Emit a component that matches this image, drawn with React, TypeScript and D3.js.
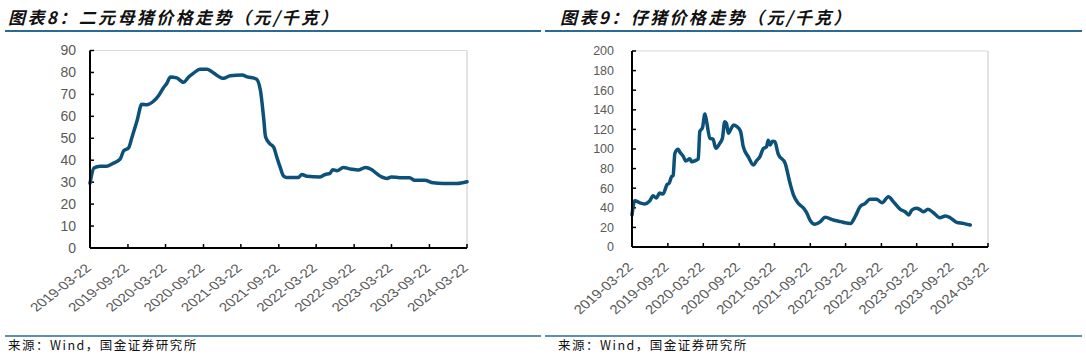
import React from "react";
import * as d3 from "d3";

const tickDates = [
  "2019-03-22", "2019-09-22", "2020-03-22", "2020-09-22", "2021-03-22", "2021-09-22",
  "2022-03-22", "2022-09-22", "2023-03-22", "2023-09-22", "2024-03-22",
];

const sowDates = [
  "2019-03-22", "2019-04-10", "2019-05-10", "2019-06-10", "2019-07-10", "2019-08-15", "2019-09-01",
  "2019-09-25", "2019-10-10", "2019-11-05", "2019-11-28", "2019-12-22", "2020-01-25", "2020-02-18",
  "2020-03-12", "2020-03-28", "2020-04-15", "2020-05-15", "2020-06-18", "2020-07-12", "2020-08-05",
  "2020-09-05", "2020-10-10", "2020-11-10", "2020-12-28", "2021-01-30", "2021-03-28", "2021-04-22",
  "2021-06-05", "2021-06-25", "2021-07-10", "2021-07-20", "2021-08-10", "2021-08-28", "2021-09-12",
  "2021-09-28", "2021-10-15", "2021-10-30", "2021-12-25", "2022-01-12", "2022-02-05", "2022-04-10",
  "2022-05-05", "2022-05-28", "2022-06-10", "2022-07-01", "2022-08-01", "2022-09-05", "2022-10-12",
  "2022-11-15", "2022-12-15", "2023-01-08", "2023-02-02", "2023-02-28", "2023-03-22", "2023-05-01",
  "2023-06-18", "2023-07-12", "2023-08-30", "2023-10-10", "2023-11-28", "2024-02-02", "2024-03-22",
];
const sowValues = [
  29.5, 36.5, 37.3, 37.2, 38.5, 40.5, 44.3,
  45.6, 50, 58, 65.5, 65.3, 67, 69.5,
  73, 75, 77.9, 77.5, 75.5, 77.9, 79.7,
  81.5, 81.5, 79.7, 77.3, 78.5, 78.8, 78,
  77, 71.8, 59.7, 50.6, 47.5, 46, 41.5,
  37, 32.8, 32.1, 32.1, 33.5, 32.7, 32.4,
  33.5, 34, 35.7, 35.2, 36.7, 36, 35.5,
  36.7, 35.8, 34, 32.4, 31.7, 32.4, 32,
  32, 30.9, 30.9, 29.7, 29.4, 29.4, 30.2,
];

const pigletDates = [
  "2019-03-22", "2019-04-05", "2019-05-01", "2019-05-26", "2019-06-21", "2019-07-08", "2019-07-25",
  "2019-08-11", "2019-08-28", "2019-09-19", "2019-09-28", "2019-10-11", "2019-10-19", "2019-10-28",
  "2019-11-14", "2019-11-22", "2019-12-10", "2019-12-23", "2020-01-13", "2020-01-22", "2020-02-12",
  "2020-02-25", "2020-03-04", "2020-03-18", "2020-03-30", "2020-04-07", "2020-04-25", "2020-05-11",
  "2020-05-25", "2020-06-15", "2020-06-28", "2020-07-10", "2020-07-19", "2020-07-28", "2020-08-12",
  "2020-08-25", "2020-09-09", "2020-09-29", "2020-10-13", "2020-11-08", "2020-12-04", "2020-12-20",
  "2021-01-06", "2021-01-25", "2021-02-09", "2021-02-18", "2021-02-28", "2021-03-12", "2021-03-24",
  "2021-04-10", "2021-05-16", "2021-06-10", "2021-06-28", "2021-07-22", "2021-08-19", "2021-09-03",
  "2021-09-22", "2021-10-16", "2021-11-13", "2021-12-07", "2022-01-19", "2022-02-25", "2022-03-19",
  "2022-04-16", "2022-05-10", "2022-06-04", "2022-07-01", "2022-07-25", "2022-08-28", "2022-09-25",
  "2022-10-28", "2022-11-22", "2022-12-28", "2023-01-22", "2023-02-09", "2023-02-25", "2023-03-22",
  "2023-04-06", "2023-04-25", "2023-05-19", "2023-06-16", "2023-07-19", "2023-08-16", "2023-09-10",
  "2023-10-13", "2023-11-16", "2023-12-22",
];
const pigletValues = [
  32.7, 47.3, 45, 44, 47, 52.4, 50,
  55, 54, 64, 65, 71.8, 73, 95.6,
  99.7, 97, 92.5, 87.8, 90, 87, 88.4,
  90, 117.7, 122, 135.7, 129, 111, 110,
  100.7, 106, 111, 127.9, 126, 116, 121,
  124.5, 123, 118, 102.4, 92, 83.7, 88,
  92, 100.7, 102, 109, 104, 108, 107.5,
  95, 85.4, 65, 53, 44.6, 39.5, 35,
  26.9, 23.1, 25.9, 30.3, 27.6, 25.9, 24.8,
  24.1, 30.9, 41.1, 44.6, 48.6, 48.6, 45.2,
  51.4, 46.3, 38.4, 36, 32.7, 37.7, 39.5,
  38.4, 36, 38.4, 35, 29.9, 31.6, 29.9,
  25.2, 24.1, 22.4,
];

const sowTicks = [0, 10, 20, 30, 40, 50, 60, 70, 80, 90];
const pigletTicks = [0, 20, 40, 60, 80, 100, 120, 140, 160, 180, 200];

const leftTitle = "图表8：二元母猪价格走势（元/千克）";
const rightTitle = "图表9：仔猪价格走势（元/千克）";
const sourceText = "来源：Wind，国金证券研究所";

const parse = d3.timeParse("%Y-%m-%d");
const LINE = "#0c5179";
const RULE = "#2b6a93";

type PanelProps = {
  title: string;
  dates: string[];
  values: number[];
  yTicks: number[];
  plot: { x0: number; x1: number; y0: number; y1: number };
  yFont: number;
  yLabelRight: number;
  xFont: number;
  xScaleX: number;
  ruleX0: number;
  ruleX1: number;
  titleX: number;
  srcX: number;
};

function Panel(p: PanelProps) {
  const x = d3
    .scaleTime()
    .domain([parse(tickDates[0])!, parse(tickDates[tickDates.length - 1])!])
    .range([p.plot.x0, p.plot.x1]);
  const yMax = p.yTicks[p.yTicks.length - 1];
  const y = d3.scaleLinear().domain([0, yMax]).range([p.plot.y1, p.plot.y0]);
  const pts: [Date, number][] = p.dates.map((d, i) => [parse(d)!, p.values[i]]);
  const line = d3
    .line<[Date, number]>()
    .x((d) => x(d[0]))
    .y((d) => y(d[1]))
    .curve(d3.curveMonotoneX);
  return (
    <g>
      <text
        x={p.titleX}
        y={24}
        fontFamily="'Noto Sans CJK SC', sans-serif"
        fontWeight="bold"
        fontStyle="italic"
        fontSize={17}
        letterSpacing={2.4}
        fill="#111"
      >
        {p.title}
      </text>
      <line x1={p.ruleX0} x2={p.ruleX1} y1={31} y2={31} stroke={RULE} strokeWidth={2} />
      <line x1={p.plot.x0} x2={p.plot.x1} y1={p.plot.y0} y2={p.plot.y0} stroke="#d9d9d9" strokeWidth={1} />
      <line x1={p.plot.x1} x2={p.plot.x1} y1={p.plot.y0} y2={p.plot.y1} stroke="#c8c8c8" strokeWidth={1} />
      {p.yTicks.map((t) => (
        <g key={t}>
          <line x1={p.plot.x0} x2={p.plot.x0 + 4} y1={y(t)} y2={y(t)} stroke="#000" strokeWidth={1.5} />
          <text
            x={p.yLabelRight}
            y={y(t)}
            dy="0.35em"
            textAnchor="end"
            fontFamily="'Liberation Sans', Arial, sans-serif"
            fontSize={p.yFont}
            fill="#595959"
          >
            {t}
          </text>
        </g>
      ))}
      {tickDates.map((d) => {
        const xx = x(parse(d)!);
        return (
          <g key={d}>
            <line x1={xx} x2={xx} y1={p.plot.y1} y2={p.plot.y1 - 4} stroke="#000" strokeWidth={1.5} />
            <text
              transform={`translate(${xx + 2},${p.plot.y1 + 21}) scale(${p.xScaleX},1) rotate(-45)`}
              textAnchor="end"
              fontFamily="'Liberation Sans', Arial, sans-serif"
              fontSize={p.xFont}
              fill="#595959"
            >
              {d}
            </text>
          </g>
        );
      })}
      <path d={line(pts) || ""} fill="none" stroke={LINE} strokeWidth={3.5} strokeLinejoin="round" strokeLinecap="round" />
      <line x1={p.plot.x0} x2={p.plot.x1} y1={p.plot.y1} y2={p.plot.y1} stroke="#000" strokeWidth={2} />
      <line x1={p.plot.x0} x2={p.plot.x0} y1={p.plot.y0} y2={p.plot.y1} stroke="#000" strokeWidth={2} />
      <line x1={p.ruleX0} x2={p.ruleX1} y1={336} y2={336} stroke={RULE} strokeWidth={1.5} />
      <text
        x={p.srcX}
        y={350}
        fontFamily="'Noto Sans CJK SC', monospace"
        fontSize={12.5}
        letterSpacing={1.5}
        fill="#111"
      >
        {sourceText}
      </text>
    </g>
  );
}

export default function App() {
  return (
    <svg
      width={1086}
      height={358}
      style={{ position: "absolute", left: 0, top: 0, background: "#fff" }}
    >
      <rect width={1086} height={358} fill="#fff" />
      <Panel
        title={leftTitle}
        dates={sowDates}
        values={sowValues}
        yTicks={sowTicks}
        plot={{ x0: 90, x1: 467, y0: 50.5, y1: 248 }}
        yFont={14}
        yLabelRight={76}
        xFont={12}
        xScaleX={1.28}
        ruleX0={5}
        ruleX1={541}
        titleX={8}
        srcX={8}
      />
      <Panel
        title={rightTitle}
        dates={pigletDates}
        values={pigletValues}
        yTicks={pigletTicks}
        plot={{ x0: 632, x1: 988, y0: 51, y1: 247 }}
        yFont={12.5}
        yLabelRight={614}
        xFont={13}
        xScaleX={1.15}
        ruleX0={545}
        ruleX1={1082}
        titleX={560}
        srcX={558}
      />
    </svg>
  );
}
